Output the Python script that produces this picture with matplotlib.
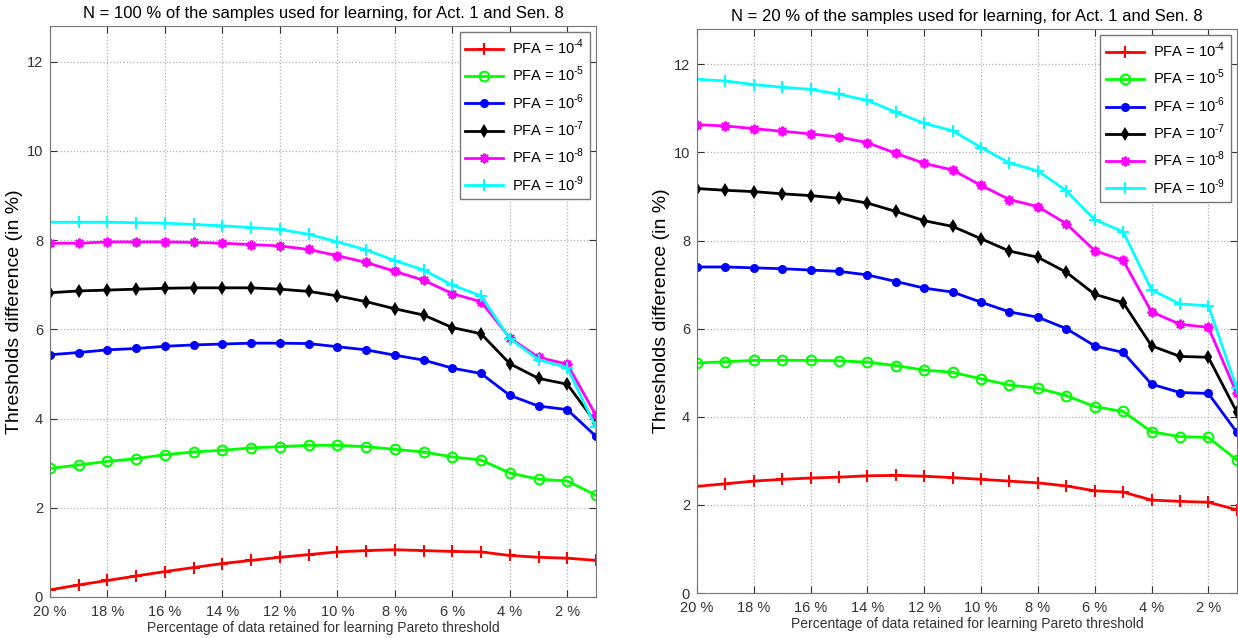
import numpy as np
import matplotlib
matplotlib.use("Agg")
import matplotlib.pyplot as plt

plt.rcParams['font.family'] = ['Liberation Sans', 'DejaVu Sans']
plt.rcParams['mathtext.fontset'] = 'custom'
plt.rcParams['mathtext.rm'] = 'Liberation Sans'

# percentage of data retained (x axis, 20 % .. 1 %)
pct = [20, 19, 18, 17, 16, 15, 14, 13, 12, 11, 10, 9, 8, 7, 6, 5, 4, 3, 2, 1]

# N = 100 %
left_pfa4 = [0.16, 0.27, 0.37, 0.47, 0.57, 0.66, 0.75, 0.82, 0.89, 0.95,
             1.01, 1.04, 1.06, 1.04, 1.02, 1.01, 0.93, 0.89, 0.87, 0.82]
left_pfa5 = [2.88, 2.96, 3.04, 3.10, 3.19, 3.25, 3.29, 3.34, 3.37, 3.40,
             3.40, 3.37, 3.31, 3.25, 3.14, 3.07, 2.78, 2.64, 2.60, 2.28]
left_pfa6 = [5.43, 5.48, 5.54, 5.57, 5.62, 5.65, 5.67, 5.69, 5.69, 5.68,
             5.61, 5.54, 5.42, 5.31, 5.13, 5.01, 4.52, 4.28, 4.20, 3.60]
left_pfa7 = [6.82, 6.86, 6.88, 6.90, 6.92, 6.93, 6.93, 6.93, 6.90, 6.85,
             6.75, 6.62, 6.46, 6.32, 6.04, 5.90, 5.23, 4.90, 4.77, 3.90]
left_pfa8 = [7.93, 7.93, 7.96, 7.96, 7.96, 7.95, 7.93, 7.90, 7.87, 7.79,
             7.65, 7.50, 7.30, 7.10, 6.80, 6.62, 5.81, 5.37, 5.22, 4.07]
left_pfa9 = [8.40, 8.40, 8.40, 8.39, 8.38, 8.35, 8.32, 8.28, 8.24, 8.13,
             7.96, 7.78, 7.54, 7.33, 6.99, 6.75, 5.79, 5.32, 5.14, 3.80]

# N = 20 %
right_pfa4 = [2.42, 2.48, 2.54, 2.58, 2.61, 2.63, 2.66, 2.67, 2.65, 2.62,
              2.58, 2.54, 2.50, 2.43, 2.32, 2.29, 2.11, 2.08, 2.06, 1.89]
right_pfa5 = [5.22, 5.25, 5.28, 5.28, 5.28, 5.27, 5.24, 5.16, 5.06, 5.01,
              4.86, 4.72, 4.65, 4.48, 4.23, 4.12, 3.66, 3.55, 3.53, 3.02]
right_pfa6 = [7.40, 7.40, 7.38, 7.36, 7.33, 7.30, 7.22, 7.07, 6.92, 6.83,
              6.60, 6.38, 6.26, 6.00, 5.61, 5.46, 4.74, 4.55, 4.53, 3.65]
right_pfa7 = [9.18, 9.14, 9.11, 9.06, 9.02, 8.96, 8.85, 8.66, 8.45, 8.32,
              8.04, 7.76, 7.62, 7.28, 6.78, 6.59, 5.61, 5.37, 5.35, 4.11]
right_pfa8 = [10.63, 10.60, 10.54, 10.48, 10.42, 10.35, 10.22, 9.98, 9.75, 9.60,
              9.25, 8.93, 8.77, 8.38, 7.77, 7.55, 6.38, 6.10, 6.03, 4.53]
right_pfa9 = [11.66, 11.62, 11.54, 11.48, 11.43, 11.32, 11.18, 10.91, 10.66, 10.49,
              10.11, 9.76, 9.58, 9.13, 8.47, 8.20, 6.88, 6.56, 6.52, 4.65]

labels = [r'PFA = 10$^{\text{-4}}$', r'PFA = 10$^{\text{-5}}$', r'PFA = 10$^{\text{-6}}$',
          r'PFA = 10$^{\text{-7}}$', r'PFA = 10$^{\text{-8}}$', r'PFA = 10$^{\text{-9}}$']
colors = ['#ff0000', '#00ff00', '#0000ff', '#000000', '#ff00ff', '#00ffff']
markers = ['+', 'o', 'o', 'd', (8, 2, 0), '+']
filled = [True, False, True, True, True, True]
msizes = [8, 7, 5, 5, 7, 8]

xticks = [20, 18, 16, 14, 12, 10, 8, 6, 4, 2]
xticklabels = ['%d %%' % v for v in xticks]


def draw(ax, series, title):
    for y, lab, c, m, f, ms in zip(series, labels, colors, markers, filled, msizes):
        ax.plot(pct, y, color=c, lw=2, marker=m, ms=ms, mew=1.5,
                mfc=c if f else 'none', mec=c, label=lab)
    ax.set_xlim(20, 1)
    ax.set_ylim(0, 12.8)
    ax.set_xticks(xticks)
    ax.set_xticklabels(xticklabels)
    ax.set_yticks([0, 2, 4, 6, 8, 10, 12])
    ax.grid(True, ls=':', color='#b0b0b0', lw=0.9)
    ax.tick_params(direction='in', top=True, right=True, labelsize=10.5,
                   colors='#333333', length=5)
    ax.tick_params(axis='x', pad=6)
    ax.tick_params(axis='y', pad=5)
    for sp in ax.spines.values():
        sp.set_color('#777777')
    ax.set_title(title, fontsize=12, pad=6)
    ax.set_xlabel('Percentage of data retained for learning Pareto threshold',
                  fontsize=10, color='#333333', labelpad=1)
    ax.set_ylabel('Thresholds difference (in %)', fontsize=14, labelpad=3)
    leg = ax.legend(loc='upper right', fontsize=10.5, fancybox=False,
                    framealpha=1, edgecolor='#777777', handlelength=2.6,
                    handletextpad=0.6, borderaxespad=0.4, labelspacing=0.55)
    leg.get_frame().set_linewidth(1.0)


fig = plt.figure(figsize=(12.38, 6.38), dpi=100)
ax1 = fig.add_axes([0.0404, 0.0643, 0.441, 0.895])
ax2 = fig.add_axes([0.563, 0.0705, 0.436, 0.884])

draw(ax1, [left_pfa4, left_pfa5, left_pfa6, left_pfa7, left_pfa8, left_pfa9],
     'N = 100 % of the samples used for learning, for Act. 1 and Sen. 8')
draw(ax2, [right_pfa4, right_pfa5, right_pfa6, right_pfa7, right_pfa8, right_pfa9],
     'N = 20 % of the samples used for learning, for Act. 1 and Sen. 8')

fig.savefig('out.png', dpi=100)
